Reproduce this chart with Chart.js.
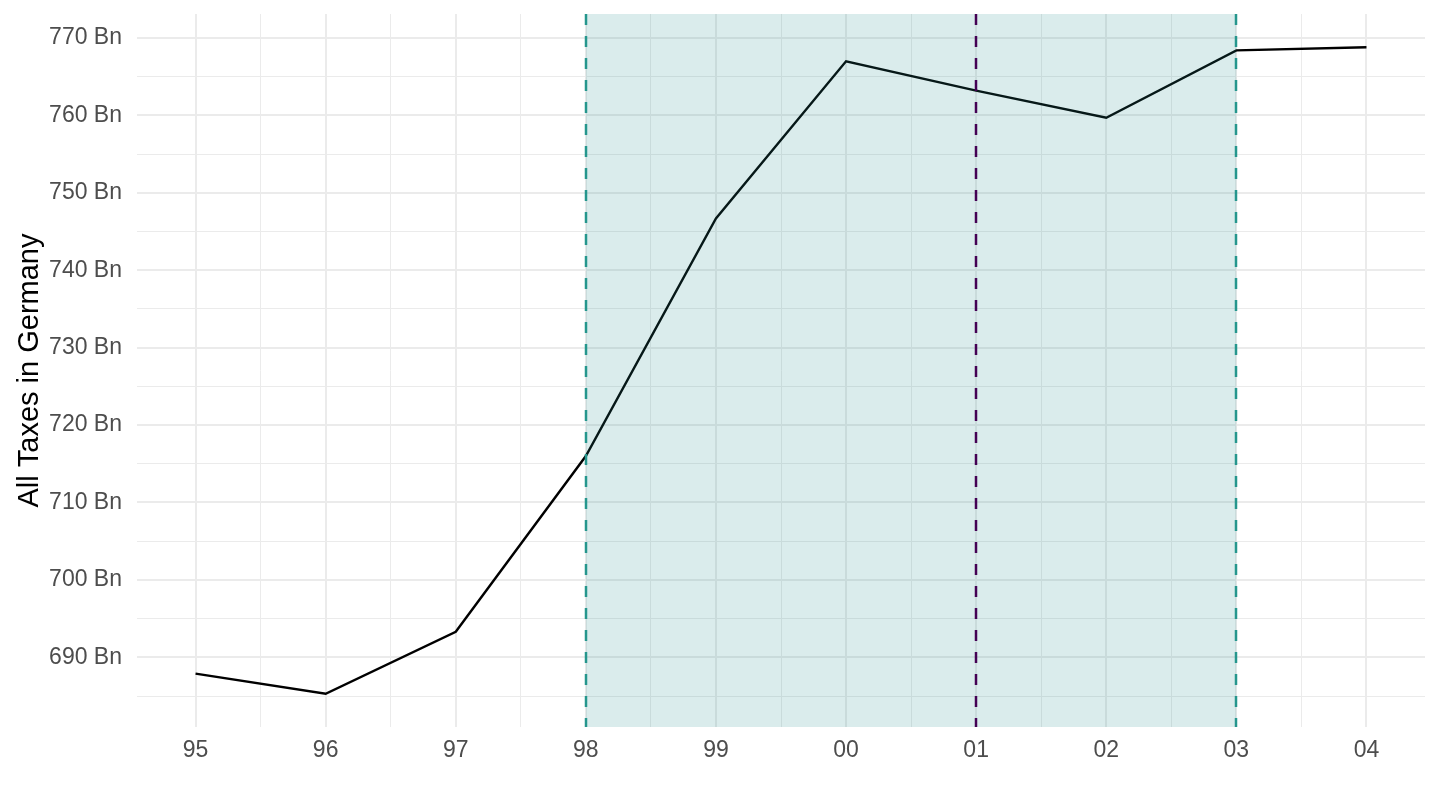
<!DOCTYPE html>
<html lang="en">
<head>
    <meta charset="UTF-8">
    <title>All Taxes in Germany</title>
    <script src="https://cdn.jsdelivr.net/npm/chart.js"></script>
    <style>
        html, body { margin: 0; padding: 0; background: #ffffff; }
        #wrap { width: 1440px; height: 810px; }
    </style>
</head>
<body>
<div id="wrap"><canvas id="taxChart"></canvas></div>

<script>
    // data (values in Bn)
    const years = [1995, 1996, 1997, 1998, 1999, 2000, 2001, 2002, 2003, 2004];
    const taxes = [687.9, 685.3, 693.3, 716.0, 746.7, 767.0, 763.2, 759.7, 768.4, 768.8];
    const yTicks = [690, 700, 710, 720, 730, 740, 750, 760, 770];
    const shadeFrom = [1998];
    const shadeTo = [2003];
    const markerYears = [2001];

    const teal = '#25968d';
    const purple = '#440154';

    // shaded period over the line, then dashed lines on top
    const periodPlugin = {
        id: 'period',
        afterDatasetsDraw(chart) {
            const { ctx, chartArea, scales: { x } } = chart;
            ctx.save();
            shadeFrom.forEach((from, i) => {
                const x0 = x.getPixelForValue(from);
                const x1 = x.getPixelForValue(shadeTo[i]);
                ctx.fillStyle = 'rgba(33,144,140,0.17)';
                ctx.fillRect(x0, chartArea.top, x1 - x0, chartArea.bottom - chartArea.top);
            });
            const vline = (v, color) => {
                const px = Math.round(x.getPixelForValue(v));
                ctx.beginPath();
                ctx.setLineDash([11, 11]);
                ctx.lineWidth = 2.5;
                ctx.strokeStyle = color;
                ctx.moveTo(px, chartArea.top);
                ctx.lineTo(px, chartArea.bottom);
                ctx.stroke();
            };
            shadeFrom.forEach(v => vline(v, teal));
            shadeTo.forEach(v => vline(v, teal));
            markerYears.forEach(v => vline(v, purple));
            ctx.restore();
        }
    };

    const fontFamily = '"Liberation Sans", Arial, sans-serif';
    const tickFont = { family: fontFamily, size: 23 };

    new Chart(document.getElementById('taxChart'), {
        type: 'line',
        data: {
            datasets: [{
                label: 'All Taxes',
                data: years.map((yr, i) => ({ x: yr, y: taxes[i] })),
                borderColor: '#000000',
                borderWidth: 2.4,
                pointRadius: 0,
                tension: 0,
                fill: false
            }]
        },
        options: {
            responsive: true,
            maintainAspectRatio: false,
            animation: false,
            devicePixelRatio: 1,
            layout: { padding: { left: 0, top: 0, right: 15, bottom: 0 } },
            plugins: {
                legend: { display: false },
                tooltip: { enabled: false }
            },
            scales: {
                x: {
                    type: 'linear',
                    min: 1994.55,
                    max: 2004.45,
                    afterBuildTicks: scale => {
                        const t = [];
                        years.forEach(yr => {
                            t.push({ value: yr });
                            if (yr + 0.5 < scale.max) t.push({ value: yr + 0.5 });
                        });
                        scale.ticks = t;
                    },
                    afterFit: scale => { scale.height = 83; },
                    border: { display: false },
                    grid: {
                        drawTicks: false,
                        color: '#ebebeb',
                        lineWidth: c => (Number.isInteger(c.tick.value) ? 2 : 1)
                    },
                    ticks: {
                        padding: 10,
                        color: '#4d4d4d',
                        font: tickFont,
                        maxRotation: 0,
                        autoSkip: false,
                        callback: v => Number.isInteger(v) ? String(v).slice(2) : ''
                    }
                },
                y: {
                    min: 681,
                    max: 773.1,
                    afterBuildTicks: scale => {
                        const t = [];
                        yTicks.forEach(v => {
                            if (v - 5 > scale.min) t.push({ value: v - 5 });
                            t.push({ value: v });
                        });
                        scale.ticks = t;
                    },
                    afterFit: scale => {
                        scale.width = 137;
                        scale.paddingTop = 14;
                    },
                    border: { display: false },
                    grid: {
                        drawTicks: false,
                        color: '#ebebeb',
                        lineWidth: c => (c.tick.value % 10 === 0 ? 2 : 1)
                    },
                    ticks: {
                        padding: 15,
                        color: '#4d4d4d',
                        font: tickFont,
                        autoSkip: false,
                        callback: v => (v % 10 === 0 ? v + ' Bn' : '')
                    },
                    title: {
                        display: true,
                        text: 'All Taxes in Germany',
                        color: '#000000',
                        font: { family: fontFamily, size: 29 },
                        padding: { top: 13, bottom: 0 }
                    }
                }
            }
        },
        plugins: [periodPlugin]
    });
</script>
</body>
</html>
